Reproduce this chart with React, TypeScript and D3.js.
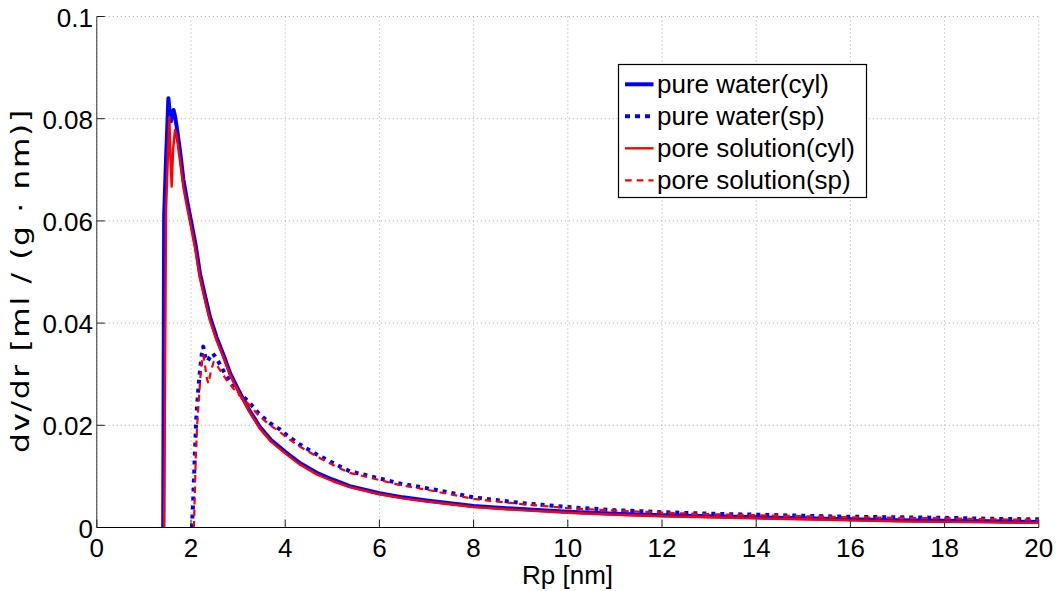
import React from "react";
import * as d3 from "d3";

const xTicks = [0, 2, 4, 6, 8, 10, 12, 14, 16, 18, 20];
const yTicks = [0, 0.02, 0.04, 0.06, 0.08, 0.1];
const yTickLabels = ["0", "0.02", "0.04", "0.06", "0.08", "0.1"];

const waterCylX = [1.41, 1.43, 1.47, 1.52, 1.55, 1.575, 1.60, 1.63, 1.66, 1.70, 1.77, 1.84, 1.92, 2.0, 2.1, 2.19, 2.3, 2.4, 2.54, 2.7, 2.83, 3.04, 3.25, 3.46, 3.7, 4.0, 4.3, 4.67, 5.0, 5.37, 6.0, 6.5, 7.0, 8.0, 9.0, 10, 11, 12, 13, 14, 15, 16, 17, 18, 19, 20];
const waterCylY = [0, 0.061, 0.072, 0.084, 0.081, 0.0795, 0.0812, 0.0817, 0.0805, 0.0782, 0.0735, 0.068, 0.0638, 0.060, 0.0552, 0.0497, 0.0452, 0.0413, 0.0373, 0.0335, 0.0302, 0.0263, 0.0228, 0.0197, 0.0171, 0.0148, 0.0127, 0.0107, 0.0094, 0.0081, 0.0067, 0.0059, 0.0053, 0.0042, 0.0036, 0.0031, 0.0027, 0.0024, 0.0022, 0.0020, 0.0018, 0.0016, 0.0014, 0.0013, 0.0012, 0.0011];

const waterSpX = [2.02, 2.05, 2.08, 2.11, 2.15, 2.19, 2.23, 2.26, 2.30, 2.35, 2.40, 2.46, 2.55, 2.65, 2.76, 2.9, 3.04, 3.25, 3.45, 3.68, 3.89, 4.0, 4.3, 4.67, 5.0, 5.37, 6.0, 6.44, 7.0, 8.0, 9, 10, 11, 12, 13, 14, 15, 16, 17, 18, 19, 20];
const waterSpY = [0, 0.006, 0.0139, 0.021, 0.0265, 0.0306, 0.034, 0.0354, 0.0335, 0.0325, 0.0333, 0.0341, 0.0330, 0.0313, 0.0295, 0.0278, 0.0263, 0.0243, 0.0222, 0.0204, 0.0192, 0.0183, 0.0163, 0.0143, 0.0127, 0.0110, 0.0096, 0.0086, 0.0077, 0.0059, 0.0048, 0.0040, 0.0034, 0.0030, 0.0027, 0.0025, 0.0023, 0.0021, 0.0020, 0.0019, 0.0017, 0.0016];

const poreCylX = [1.43, 1.47, 1.50, 1.54, 1.565, 1.59, 1.62, 1.66, 1.70, 1.77, 1.84, 1.92, 2.0, 2.1, 2.19, 2.3, 2.4, 2.54, 2.7, 2.83, 3.04, 3.25, 3.46, 3.7, 4.0, 4.3, 4.67, 5.0, 5.37, 6.0, 6.5, 7.0, 8.0, 9.0, 10, 11, 12, 13, 14, 15, 16, 17, 18, 19, 20];
const poreCylY = [0, 0.062, 0.070, 0.0803, 0.072, 0.0667, 0.074, 0.0778, 0.0762, 0.0715, 0.0665, 0.0625, 0.0588, 0.0540, 0.0488, 0.0444, 0.0406, 0.0367, 0.0330, 0.0298, 0.0260, 0.0225, 0.0194, 0.0168, 0.0145, 0.0124, 0.0104, 0.0091, 0.0079, 0.0065, 0.0057, 0.0051, 0.0040, 0.0034, 0.0029, 0.0025, 0.0022, 0.0020, 0.0018, 0.0016, 0.0014, 0.0012, 0.0011, 0.0010, 0.0009];

const poreSpX = [2.06, 2.08, 2.10, 2.13, 2.17, 2.20, 2.23, 2.26, 2.30, 2.34, 2.37, 2.42, 2.48, 2.56, 2.66, 2.76, 2.9, 3.04, 3.25, 3.45, 3.68, 3.89, 4.0, 4.3, 4.67, 5.0, 5.37, 6.0, 6.44, 7.0, 8.0, 9, 10, 11, 12, 13, 14, 15, 16, 17, 18, 19, 20];
const poreSpY = [0, 0.006, 0.0135, 0.020, 0.0255, 0.0295, 0.0325, 0.0338, 0.0315, 0.0290, 0.0282, 0.0305, 0.0324, 0.0316, 0.0302, 0.0288, 0.0272, 0.0258, 0.0239, 0.0218, 0.0200, 0.0187, 0.0178, 0.0159, 0.0139, 0.0123, 0.0107, 0.0093, 0.0083, 0.0074, 0.0056, 0.0046, 0.0038, 0.0033, 0.0029, 0.0026, 0.0024, 0.0022, 0.0020, 0.0019, 0.0018, 0.0016, 0.0015];

const seriesNames = ["pure water(cyl)", "pure water(sp)", "pore solution(cyl)", "pore solution(sp)"];

const W = 1062;
const H = 591;
const left = 96.8;
const right = 1038.8;
const top = 16.5;
const bottom = 527.5;
const FONT = "'Liberation Sans', Arial, Helvetica, sans-serif";

export default function App() {
  const x = d3.scaleLinear().domain([0, 20]).range([left, right]);
  const y = d3.scaleLinear().domain([0, 0.1]).range([bottom, top]);
  const mk = (xs: number[], ys: number[]) =>
    d3.line<number>().x((_, i) => x(xs[i])).y((d) => y(d))(ys) || "";

  const styles = [
    { color: "#0000ff", width: 4, dash: "none" },
    { color: "#0000ff", width: 4, dash: "4,5" },
    { color: "#ff0000", width: 2.4, dash: "none" },
    { color: "#ff0000", width: 2.2, dash: "6.5,5" },
  ];
  const paths = [
    mk(waterCylX, waterCylY),
    mk(waterSpX, waterSpY),
    mk(poreCylX, poreCylY),
    mk(poreSpX, poreSpY),
  ];

  const legX = 618.5;
  const legY = 64.5;
  const legW = 248;
  const legH = 133;

  return (
    <svg width={W} height={H} style={{ position: "absolute", left: 0, top: 0, background: "#fff" }} fontFamily={FONT}>
      <rect x={0} y={0} width={W} height={H} fill="#fff" />
      {xTicks.map((t) => (
        <line key={"gx" + t} x1={x(t)} x2={x(t)} y1={top} y2={bottom} stroke="#a8a8a8" strokeWidth={1} strokeDasharray="1,3" />
      ))}
      {yTicks.map((t) => (
        <line key={"gy" + t} x1={left} x2={right} y1={y(t)} y2={y(t)} stroke="#a8a8a8" strokeWidth={1} strokeDasharray="1,3" />
      ))}
      {xTicks.map((t) => (
        <line key={"tx" + t} x1={x(t)} x2={x(t)} y1={bottom} y2={bottom - 8} stroke="#222" strokeWidth={1} />
      ))}
      {yTicks.map((t) => (
        <line key={"ty" + t} x1={left} x2={left + 8} y1={y(t)} y2={y(t)} stroke="#222" strokeWidth={1} />
      ))}
      {paths.map((p, i) => (
        <path key={"s" + i} d={p} fill="none" stroke={styles[i].color} strokeWidth={styles[i].width}
          strokeDasharray={styles[i].dash} strokeLinejoin="round" strokeLinecap="butt" />
      ))}
      <line x1={left} x2={left} y1={top} y2={bottom} stroke="#333" strokeWidth={1} />
      <line x1={left} x2={right} y1={bottom} y2={bottom} stroke="#000" strokeWidth={1} />
      {xTicks.map((t) => (
        <text key={"lx" + t} x={x(t)} y={bottom + 29} fontSize={26} textAnchor="middle" fill="#000">{t}</text>
      ))}
      {yTicks.map((t, i) => (
        <text key={"ly" + t} x={93} y={y(t) + 10} fontSize={26} textAnchor="end" fill="#000">{yTickLabels[i]}</text>
      ))}
      <text x={567.5} y={584} fontSize={26} textAnchor="middle" fill="#000">Rp [nm]</text>
      <text transform="translate(29,281.5) rotate(-90) scale(1.3,1)" fontSize={24} textAnchor="middle" fill="#000"
        fontFamily="'DejaVu Sans', sans-serif" textLength={264} lengthAdjust="spacing">dv/dr [ml / (g · nm)]</text>
      <rect x={legX} y={legY} width={legW} height={legH} fill="#fff" stroke="#000" strokeWidth={1.2} />
      {seriesNames.map((n, i) => {
        const cy = 84.3 + i * 32;
        return (
          <g key={"lg" + i}>
            <line x1={625} x2={653.5} y1={cy} y2={cy} stroke={styles[i].color} strokeWidth={styles[i].width}
              strokeDasharray={i === 1 ? "5,5" : i === 3 ? "6.7,5" : "none"} />
            <text x={657} y={cy + 9} fontSize={26} fill="#000">{n}</text>
          </g>
        );
      })}
    </svg>
  );
}
